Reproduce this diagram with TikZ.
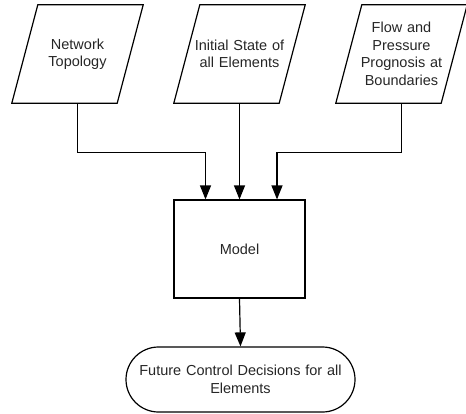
\documentclass[tikz,border=0pt]{standalone}
\usepackage{fontspec}
\setmainfont{Liberation Sans}
\usetikzlibrary{shapes.misc,arrows.meta,calc}
\begin{document}
\begin{tikzpicture}[x=1pt,y=-1pt,
  every node/.style={font=\fontsize{14.5}{17.5}\selectfont, align=center, text=black!85},
  line/.style={line width=1.2pt, line join=miter},
  paracore/.style={rectangle, minimum width=105pt, minimum height=98pt, inner sep=0pt, text width=100pt},
  modelbox/.style={draw, line width=1.2pt, rectangle, minimum width=131pt, minimum height=98pt},
  term/.style={draw, line width=1.2pt, rounded rectangle, minimum width=229pt, minimum height=65pt, inner sep=0pt, text width=220pt},
  arr/.style={line width=1.2pt, -{Triangle[length=14pt,width=11pt]}}
]
\useasboundingbox (0,0) rectangle (466,413);
\node[paracore] (p1) at (77.5,54) {Network\\Topology};
\node[paracore] (p2) at (239.5,54) {Initial State of\\all Elements};
\node[paracore] (p3) at (401.5,54) {Flow and\\Pressure\\Prognosis at\\Boundaries};
\foreach \p in {p1,p2,p3}{
  \draw[line] ([xshift=-13pt]\p.south west) -- ([xshift=13pt]\p.north west)
    -- ([xshift=13pt]\p.north east) -- ([xshift=-13pt]\p.south east) -- cycle;
}
\node[modelbox] (model) at (239.5,249) {Model};
\node[term] (fut) at (240.5,379.5) {Future Control Decisions for all\\Elements};
\draw[arr] (p1.south) -- ++(0,49) -| ([xshift=-34pt]model.north);
\draw[arr] (p2.south) -- (model.north);
\draw[arr] (p3.south) -- ++(0,49) -| ([xshift=37.5pt]model.north);
\draw[arr] (model.south) -- (fut.north);
\end{tikzpicture}
\end{document}
